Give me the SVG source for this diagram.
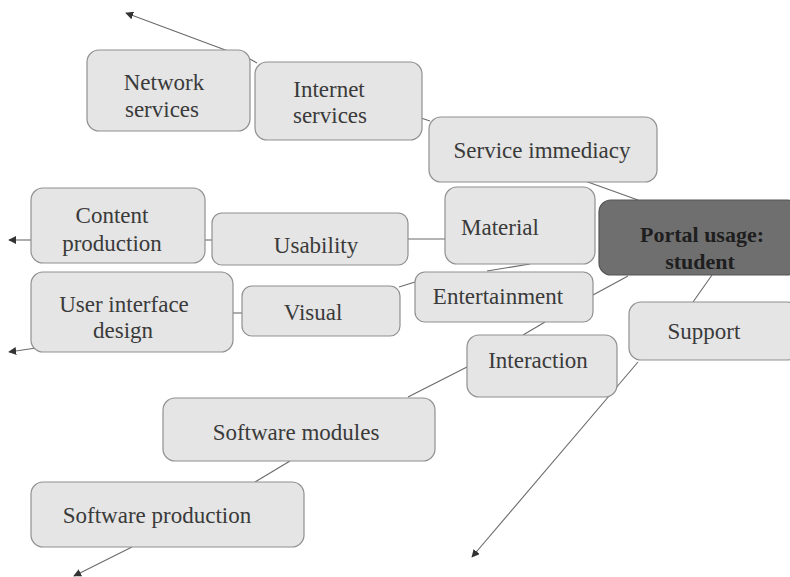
<svg xmlns="http://www.w3.org/2000/svg" width="790" height="577" viewBox="0 0 790 577">
<style>
.box{fill:#e5e5e5;stroke:#909090;stroke-width:1.2}
.hub{fill:#6f6f6f;stroke:#555;stroke-width:1.2}
.t{font-family:"Liberation Serif","Times New Roman",serif;font-size:23px;fill:#3a3a3a;text-anchor:middle}
.tb{font-family:"Liberation Serif","Times New Roman",serif;font-size:22px;font-weight:bold;fill:#1e1e1e;text-anchor:middle}
.c{stroke:#6a6a6a;stroke-width:1.1;fill:none}
.a{stroke:#6a6a6a;stroke-width:1.1;fill:none;marker-end:url(#ah)}
</style>
<defs>
<marker id="ah" viewBox="0 0 10 10" refX="9" refY="5" markerWidth="8" markerHeight="8" orient="auto" markerUnits="userSpaceOnUse">
<path d="M0,0 L10,5 L0,10 Z" fill="#333"/>
</marker>
</defs>
<rect width="790" height="577" fill="#ffffff"/>
<g id="connectors">
<line class="a" x1="228" y1="51" x2="126" y2="13"/>
<line class="c" x1="248" y1="58" x2="257" y2="63"/>
<line class="c" x1="421" y1="118" x2="430" y2="121"/>
<line class="c" x1="585" y1="181" x2="638" y2="200"/>
<line class="c" x1="408" y1="239" x2="446" y2="239"/>
<line class="a" x1="31" y1="240" x2="9" y2="240"/>
<line class="c" x1="205" y1="240" x2="213" y2="240"/>
<line class="c" x1="487" y1="271" x2="530" y2="264"/>
<line class="c" x1="593" y1="295" x2="628" y2="276"/>
<line class="c" x1="399" y1="287" x2="415" y2="282"/>
<line class="c" x1="233" y1="313" x2="243" y2="313"/>
<line class="a" x1="36" y1="348" x2="9" y2="352"/>
<line class="c" x1="545" y1="322" x2="523" y2="335"/>
<line class="c" x1="712" y1="275" x2="693" y2="302"/>
<line class="a" x1="638" y1="362" x2="472" y2="557"/>
<line class="c" x1="467" y1="367" x2="408" y2="397"/>
<line class="c" x1="290" y1="461" x2="255" y2="482"/>
<line class="a" x1="132" y1="547" x2="74" y2="576"/>
</g>
<g id="network-services">
<rect class="box" x="87" y="50" width="163" height="81" rx="12"/>
<text class="t" x="164" y="90">Network</text>
<text class="t" x="162" y="117">services</text>
</g>
<g id="internet-services">
<rect class="box" x="255" y="62" width="167" height="78" rx="12"/>
<text class="t" x="329" y="97">Internet</text>
<text class="t" x="330" y="123">services</text>
</g>
<g id="service-immediacy">
<rect class="box" x="429" y="117" width="228" height="65" rx="12"/>
<text class="t" x="542" y="158">Service immediacy</text>
</g>
<g id="material">
<rect class="box" x="445" y="187" width="150" height="77" rx="12"/>
<text class="t" x="500" y="235">Material</text>
</g>
<g id="portal-usage-student">
<rect class="hub" x="599" y="200" width="200" height="75" rx="12"/>
<text class="tb" x="702" y="242">Portal usage:</text>
<text class="tb" x="700" y="269">student</text>
</g>
<g id="content-production">
<rect class="box" x="31" y="188" width="174" height="75" rx="12"/>
<text class="t" x="112" y="223">Content</text>
<text class="t" x="112" y="251">production</text>
</g>
<g id="usability">
<rect class="box" x="212" y="213" width="196" height="52" rx="10"/>
<text class="t" x="316" y="253">Usability</text>
</g>
<g id="entertainment">
<rect class="box" x="415" y="272" width="178" height="50" rx="10"/>
<text class="t" x="498" y="304">Entertainment</text>
</g>
<g id="user-interface-design">
<rect class="box" x="31" y="272" width="202" height="80" rx="12"/>
<text class="t" x="124" y="312">User interface</text>
<text class="t" x="123" y="338">design</text>
</g>
<g id="visual">
<rect class="box" x="242" y="286" width="158" height="50" rx="10"/>
<text class="t" x="313" y="320">Visual</text>
</g>
<g id="interaction">
<rect class="box" x="467" y="335" width="150" height="62" rx="12"/>
<text class="t" x="538" y="368">Interaction</text>
</g>
<g id="support">
<rect class="box" x="629" y="302" width="170" height="58" rx="12"/>
<text class="t" x="704" y="339">Support</text>
</g>
<g id="software-modules">
<rect class="box" x="163" y="398" width="272" height="63" rx="12"/>
<text class="t" x="296" y="440">Software modules</text>
</g>
<g id="software-production">
<rect class="box" x="31" y="482" width="273" height="65" rx="12"/>
<text class="t" x="157" y="523">Software production</text>
</g>
</svg>
